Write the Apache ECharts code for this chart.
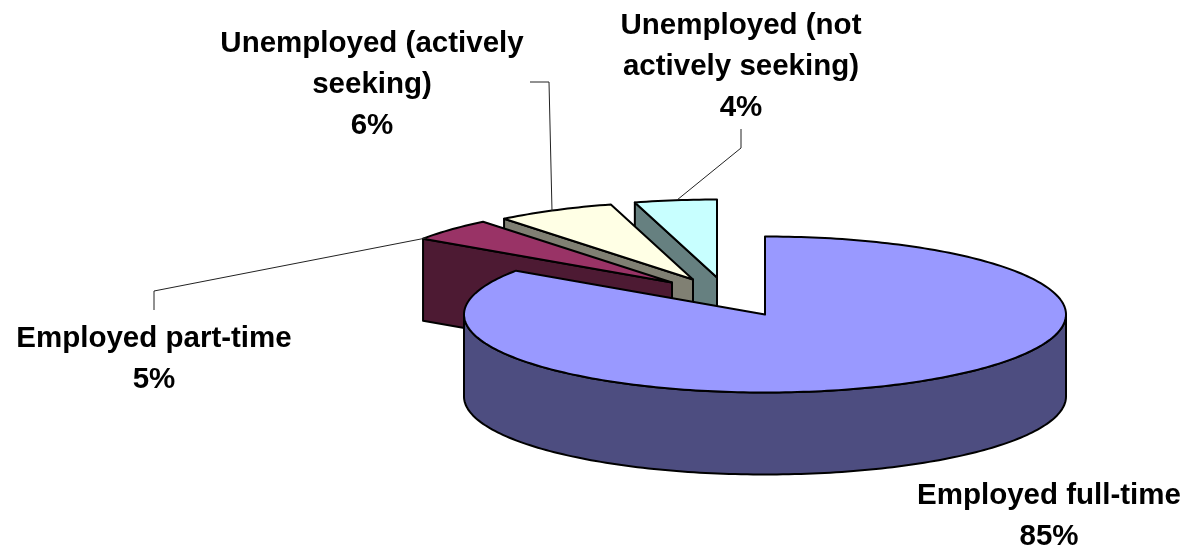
<!DOCTYPE html>
<html>
<head>
<meta charset="utf-8">
<script src="https://cdn.jsdelivr.net/npm/echarts@6/dist/echarts.min.js"></script>
<style>
    html,body{margin:0;padding:0;background:#fff}
    #pie{width:1186px;height:546px}
</style>
</head>
<body>
<div id="pie"></div>
<script>
// slices, clockwise from 12 o'clock
var categories=['Employed full-time','Employed part-time','Unemployed (actively seeking)','Unemployed (not actively seeking)']
var values=[84.5,4.7,6.4,4.4]
var wrappedNames=['Employed full-time','Employed part-time','Unemployed (actively\nseeking)','Unemployed (not\nactively seeking)']

// drawing styles, same order as the slices
var topColors=['#9999ff','#993366','#ffffe5','#c8ffff']
var sideColors=['#4d4d80','#4d1a33','#808073','#668080']
var explodeX=[0,-93,-72,-48]
var explodeY=[0,-32,-35,-37]
var labelX=[1049,154,372,741]
var labelY=[516,359,85,67]
var leaders=[
  null,
  [[154,310],[154,291],[426,238]],
  [[530,82],[549,82],[552,211]],
  [[741,129],[741,148],[677,200]]
]

var cx=765,cy=314.5,rx=301,ry=78,depth=82
var total=values.reduce(function(a,b){return a+b},0)

function rim(a,ox,oy,dy){
  return [cx+ox+rx*Math.sin(a),cy+oy+dy-ry*Math.cos(a)]
}
function arc(from,to,ox,oy,dy){
  var pts=[],n=Math.max(2,Math.ceil(Math.abs(to-from)/0.02))
  for(var i=0;i<=n;i++){
    pts.push(rim(from+(to-from)*i/n,ox,oy,dy))
  }
  return pts
}
function poly(points,fill){
  return {
    type:'polygon',
    shape:{points:points},
    style:{fill:fill,stroke:'#000',lineWidth:2,lineJoin:'round'}
  }
}

var seriesData=categories.map(function(c,i){
  return {name:c,value:[values[i],i]}
}).reverse()

function renderSlice(params,api){
  var idx=api.value(1)
  var before=0
  for(var i=0;i<idx;i++){before+=values[i]}
  var start=before/total*Math.PI*2
  var end=(before+api.value(0))/total*Math.PI*2
  var ox=explodeX[idx],oy=explodeY[idx]
  var ax=cx+ox,ay=cy+oy
  var kids=[]
  // cut face on the start edge, only seen on the left half
  if(Math.sin(start)<-0.001){
    var r0=rim(start,ox,oy,0)
    kids.push(poly([[ax,ay],r0,[r0[0],r0[1]+depth],[ax,ay+depth]],sideColors[idx]))
  }
  // outer wall, front half only
  var w0=Math.max(start,Math.PI/2),w1=Math.min(end,Math.PI*1.5)
  if(w1>w0){
    var upper=arc(w0,w1,ox,oy,0)
    var lower=arc(w1,w0,ox,oy,depth)
    kids.push(poly(upper.concat(lower),sideColors[idx]))
  }
  kids.push(poly([[ax,ay]].concat(arc(start,end,ox,oy,0)),topColors[idx]))
  return {type:'group',children:kids}
}

var graphics=[]
categories.forEach(function(c,i){
  if(leaders[i]){
    graphics.push({
      type:'polyline',
      z:5,
      shape:{points:leaders[i]},
      style:{stroke:'#222',lineWidth:1,fill:null}
    })
  }
  graphics.push({
    type:'text',
    z:6,
    x:labelX[i],
    y:labelY[i],
    style:{
      text:wrappedNames[i]+'\n'+Math.round(values[i])+'%',
      fill:'#000',
      font:'bold 29.5px "Liberation Sans"',
      lineHeight:41,
      align:'center',
      verticalAlign:'middle'
    }
  })
})

var chart=echarts.init(document.getElementById('pie'))
chart.setOption({
  animation:false,
  backgroundColor:'#fff',
  graphic:graphics,
  series:[{
    type:'custom',
    coordinateSystem:'none',
    renderItem:renderSlice,
    data:seriesData,
    z:2
  }]
})
</script>
</body>
</html>
